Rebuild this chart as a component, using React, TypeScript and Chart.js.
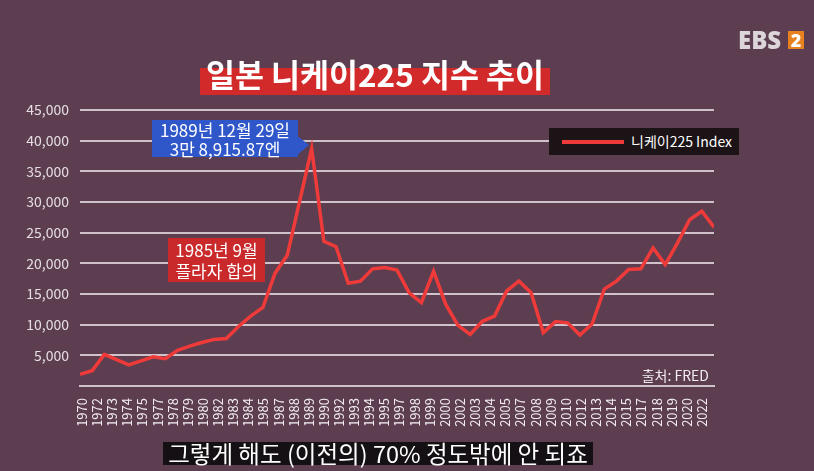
import React, { useEffect, useRef } from "react";
import { Chart, registerables } from "chart.js";

Chart.register(...registerables);

const YEARS = [
  1970, 1971, 1972, 1973, 1974, 1975, 1976, 1977, 1978, 1979,
  1980, 1981, 1982, 1983, 1984, 1985, 1986, 1987, 1988, 1989,
  1990, 1991, 1992, 1993, 1994, 1995, 1996, 1997, 1998, 1999,
  2000, 2001, 2002, 2003, 2004, 2005, 2006, 2007, 2008, 2009,
  2010, 2011, 2012, 2013, 2014, 2015, 2016, 2017, 2018, 2019,
  2020, 2021, 2022,
];

const NIKKEI = [
  1900, 2500, 5150, 4300, 3450, 4100, 4750, 4450, 5800, 6500,
  7100, 7600, 7750, 9700, 11400, 12800, 18400, 21300, 30000, 38700,
  23600, 22700, 16750, 17100, 19100, 19300, 18900, 15200, 13600, 18700,
  13300, 9900, 8400, 10550, 11400, 15500, 17100, 15200, 8700, 10500,
  10300, 8300, 10100, 15800, 17100, 19000, 19100, 22500, 19800, 23300,
  27100, 28500, 25900,
];

const X_TICK_LABELS = [
  "1970", "1972", "1973", "1974", "1975", "1977", "1978", "1979", "1980", "1982",
  "1983", "1984", "1985", "1987", "1988", "1989", "1990", "1992", "1993", "1994",
  "1995", "1997", "1998", "1999", "2000", "2002", "2003", "2004", "2005", "2007",
  "2008", "2009", "2010", "2012", "2013", "2014", "2015", "2017", "2018", "2019",
  "2020", "2022",
];

const Y_TICKS = [0, 5000, 10000, 15000, 20000, 25000, 30000, 35000, 40000, 45000];

const SERIES_LABEL = "니케이225 Index";
const TITLE = "일본 니케이225 지수 추이";
const NOTE_PEAK = ["1989년 12월 29일", "3만 8,915.87엔"];
const NOTE_PLAZA = ["1985년 9월", "플라자 합의"];
const SOURCE = "출처: FRED";
const SUBTITLE = "그렇게 해도 (이전의) 70% 정도밖에 안 되죠";

const FONT = "'Noto Sans CJK KR', 'Noto Sans', sans-serif";
const BG = "rgb(92,62,80)";
const GRID = "#cfc2cb";
const RED = "#ef3a3a";

export default function App() {
  const canvasRef = useRef<HTMLCanvasElement | null>(null);

  useEffect(() => {
    const canvas = canvasRef.current;
    if (!canvas) return;
    const chart = new Chart(canvas, {
      type: "line",
      data: {
        datasets: [
          {
            label: SERIES_LABEL,
            data: YEARS.map((y, i) => ({ x: y, y: NIKKEI[i] })),
            borderColor: RED,
            borderWidth: 3.5,
            pointRadius: 0,
            tension: 0,
            xAxisID: "x",
            yAxisID: "y",
          },
        ],
      },
      options: {
        animation: false,
        responsive: false,
        devicePixelRatio: 1,
        layout: { padding: { left: 0, right: 100, top: 110, bottom: 0 } },
        plugins: {
          legend: { display: false },
          tooltip: { enabled: false },
        },
        scales: {
          x: {
            type: "linear",
            display: false,
            min: YEARS[0],
            max: YEARS[YEARS.length - 1],
          },
          x2: {
            type: "linear",
            position: "bottom",
            min: -0.132,
            max: 41.794,
            afterBuildTicks: (axis: any) => {
              axis.ticks = X_TICK_LABELS.map((_, i) => ({ value: i }));
            },
            afterFit: (axis: any) => {
              axis.height = 85;
            },
            grid: { display: false },
            border: { display: true, color: GRID, width: 2 },
            ticks: {
              autoSkip: false,
              minRotation: 90,
              maxRotation: 90,
              padding: 4,
              color: "#f2ecf0",
              font: { family: FONT, size: 13 },
              callback: (v: any) => X_TICK_LABELS[Math.round(Number(v))] ?? "",
            },
          },
          y: {
            type: "linear",
            min: 0,
            max: 45000,
            afterBuildTicks: (axis: any) => {
              axis.ticks = Y_TICKS.map((v) => ({ value: v }));
            },
            afterFit: (axis: any) => {
              axis.width = 80;
            },
            grid: { color: GRID, lineWidth: 2, drawTicks: false },
            border: { display: false },
            ticks: {
              padding: 11,
              color: "#e6dee4",
              font: { family: FONT, size: 14 },
              callback: (v: any) =>
                Number(v) === 0 ? "" : Number(v).toLocaleString("en-US"),
            },
          },
        },
      },
    });
    return () => chart.destroy();
  }, []);

  const abs = (s: React.CSSProperties): React.CSSProperties => ({
    position: "absolute",
    fontFamily: FONT,
    ...s,
  });

  return (
    <div
      style={{
        position: "absolute",
        left: 0,
        top: 0,
        width: 814,
        height: 471,
        background: BG,
        overflow: "hidden",
      }}
    >
      <canvas
        ref={canvasRef}
        width={814}
        height={471}
        style={{ position: "absolute", left: 0, top: 0, width: 814, height: 471 }}
      />

      {/* EBS logo */}
      <div
        style={abs({
          left: 738,
          top: 27,
          fontFamily: "'Open Sans', 'Noto Sans', sans-serif",
          fontWeight: 800,
          fontSize: 24,
          lineHeight: "26px",
          color: "#dcd6da",
          letterSpacing: 0,
        })}
      >
        EBS
      </div>
      <div
        style={abs({
          left: 788,
          top: 31,
          width: 16,
          height: 18,
          background: "#e8821f",
          color: "#fff",
          fontFamily: "'Open Sans', 'Noto Sans', sans-serif",
          fontWeight: 800,
          fontSize: 18,
          lineHeight: "18px",
          textAlign: "center",
        })}
      >
        2
      </div>

      {/* Title */}
      <div
        style={abs({
          left: 200,
          top: 68,
          width: 350,
          height: 27,
          background: "#d22a2b",
        })}
      />
      <div
        style={abs({
          left: 120,
          top: 54,
          width: 510,
          textAlign: "center",
          color: "#fff",
          fontWeight: 700,
          fontSize: 31.5,
          lineHeight: "38px",
          whiteSpace: "nowrap",
        })}
      >
        {TITLE}
      </div>

      {/* Legend */}
      <div
        style={abs({
          left: 549,
          top: 128,
          width: 190,
          height: 27,
          background: "#1b1316",
        })}
      >
        <div
          style={{
            position: "absolute",
            left: 13,
            top: 12,
            width: 62,
            height: 4,
            background: RED,
          }}
        />
        <div
          style={{
            position: "absolute",
            left: 82,
            top: 0,
            height: 27,
            lineHeight: "27px",
            fontSize: 14,
            color: "#fff",
            whiteSpace: "nowrap",
          }}
        >
          {SERIES_LABEL}
        </div>
      </div>

      {/* Peak note */}
      <svg
        width={814}
        height={471}
        style={{ position: "absolute", left: 0, top: 0, pointerEvents: "none" }}
      >
        <polygon points="295,134 309,145 295,157" fill="#2f57c9" />
      </svg>
      <div
        style={abs({
          left: 152,
          top: 120,
          width: 146,
          height: 37,
          background: "#2f57c9",
          color: "#fff",
          fontSize: 17,
          lineHeight: "19px",
          textAlign: "center",
          whiteSpace: "nowrap",
        })}
      >
        <div>{NOTE_PEAK[0]}</div>
        <div>{NOTE_PEAK[1]}</div>
      </div>

      {/* Plaza note */}
      <div
        style={abs({
          left: 168,
          top: 238,
          width: 97,
          height: 44,
          background: "#c9292b",
          color: "#fff",
          fontSize: 17,
          lineHeight: "21px",
          textAlign: "center",
          whiteSpace: "nowrap",
          paddingTop: 1,
          boxSizing: "border-box",
        })}
      >
        <div>{NOTE_PLAZA[0]}</div>
        <div>{NOTE_PLAZA[1]}</div>
      </div>

      {/* Source */}
      <div
        style={abs({
          right: 814 - 709,
          top: 366,
          fontSize: 14,
          lineHeight: "18px",
          color: "#f2ecf0",
          whiteSpace: "nowrap",
        })}
      >
        {SOURCE}
      </div>

      {/* Subtitle */}
      <div
        style={abs({
          left: 163,
          top: 442,
          width: 430,
          height: 23,
          background: "#151013",
          color: "#fff",
          fontSize: 23.5,
          lineHeight: "23px",
          textAlign: "center",
          whiteSpace: "nowrap",
        })}
      >
        {SUBTITLE}
      </div>
    </div>
  );
}
